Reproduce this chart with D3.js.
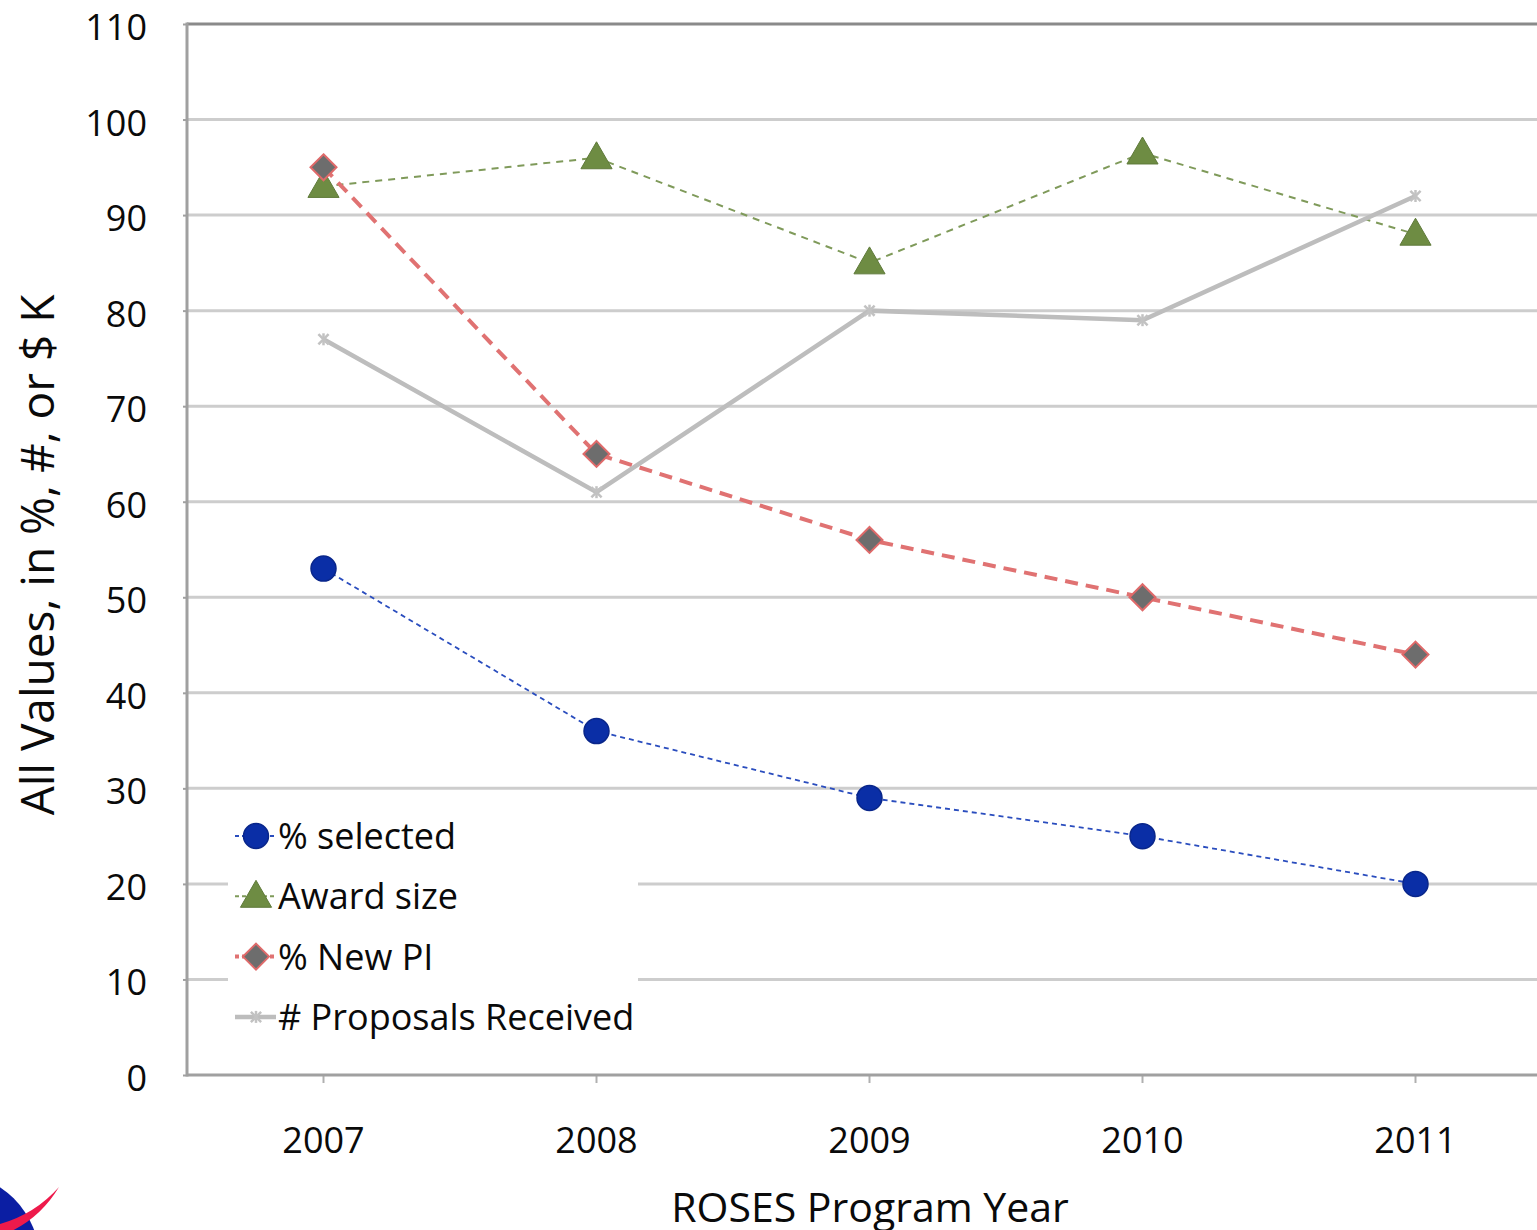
<!DOCTYPE html>
<html>
<head>
<meta charset="utf-8">
<script src="https://cdn.jsdelivr.net/npm/d3@7"></script>
<style>
  body { margin: 0; background: #fff; }
  svg text { font-family: "Open Sans", sans-serif; fill: #0a0a0a; }
</style>
</head>
<body>
<div id="chart"></div>
<script>
// values
var years = ["2007", "2008", "2009", "2010", "2011"];
var yTicks = [0, 10, 20, 30, 40, 50, 60, 70, 80, 90, 100, 110];
var pctSelected = [53, 36, 29, 25, 20];
var awardSize = [93, 96, 85, 96.5, 88];
var pctNewPI = [95, 65, 56, 50, 44];
var proposals = [77, 61, 80, 79, 92];
var seriesNames = ["% selected", "Award size", "% New PI", "# Proposals Received"];

(function() {
    var width = 1537, height = 1230,
        left = 187, top = 24, bottom = 1075, step = 273;

    var svg = d3.select("#chart").append("svg")
        .attr("width", width).attr("height", height);

    // one band per year, the plot runs a little past the right edge
    var x = d3.scaleBand().domain(years).range([left, left + step * years.length]).paddingInner(0);
    var y = d3.scaleLinear().domain([0, 110]).range([bottom, top]);
    var cx = function(d, i) { return x(years[i]) + x.bandwidth() / 2; };

    // gridlines
    svg.append("g").selectAll("line")
        .data(yTicks.filter(function(t) { return t > 0 && t < 110; }))
        .enter().append("line")
        .attr("x1", left).attr("x2", width)
        .attr("y1", function(d) { return y(d); }).attr("y2", function(d) { return y(d); })
        .attr("stroke", "#cdcdcd").attr("stroke-width", 3);

    // frame
    svg.append("line").attr("x1", left).attr("x2", width).attr("y1", top).attr("y2", top)
        .attr("stroke", "#8a8a8a").attr("stroke-width", 3);
    svg.append("line").attr("x1", left).attr("x2", left).attr("y1", top - 1.5).attr("y2", bottom + 1.5)
        .attr("stroke", "#a0a0a0").attr("stroke-width", 3);

    // x axis
    var xAxis = d3.axisBottom(x).tickSize(8).tickPadding(44);
    var gx = svg.append("g").attr("transform", "translate(0," + bottom + ")").call(xAxis);
    gx.select(".domain").remove();
    gx.append("line").attr("x1", left).attr("x2", width).attr("stroke", "#a0a0a0").attr("stroke-width", 3);
    gx.selectAll(".tick line").attr("stroke", "#b0b0b0").attr("stroke-width", 2);
    gx.selectAll(".tick text").attr("font-size", 36).attr("fill", "#0a0a0a");

    // y axis labels
    var yAxis = d3.axisLeft(y).tickValues(yTicks).tickSize(4).tickPadding(36);
    var gy = svg.append("g").attr("transform", "translate(" + left + ",4)").call(yAxis);
    gy.select(".domain").remove();
    gy.selectAll(".tick line").attr("stroke", "#a0a0a0").attr("stroke-width", 2).attr("transform", "translate(0,-4)");
    gy.selectAll(".tick text").attr("font-size", 36).attr("fill", "#0a0a0a");

    // axis titles
    svg.append("text").attr("x", 870).attr("y", 1222).attr("text-anchor", "middle")
        .attr("font-size", 41).text("ROSES Program Year");
    svg.append("text").attr("transform", "translate(54,555) rotate(-90)").attr("text-anchor", "middle")
        .attr("font-size", 46).text("All Values, in %, #, or $ K");

    var line = d3.line().x(cx).y(function(d) { return y(d); });

    // legend background box covers the gridlines
    svg.append("rect").attr("x", 228).attr("y", 798).attr("width", 410).attr("height", 258).attr("fill", "#fff");

    var series = [
        { name: seriesNames[0], values: pctSelected, stroke: "#2a4dbe", width: 1.8, dash: "5,4", marker: "circle" },
        { name: seriesNames[1], values: awardSize, stroke: "#7f9a5a", width: 2, dash: "7,6", marker: "triangle" },
        { name: seriesNames[2], values: pctNewPI, stroke: "#e07272", width: 4, dash: "13,8", marker: "diamond" },
        { name: seriesNames[3], values: proposals, stroke: "#bdbdbd", width: 4.5, dash: null, marker: "star" }
    ];

    function drawMarker(g, type) {
        if (type === "circle") {
            g.append("circle").attr("r", 12.5).attr("fill", "#0a2ea6").attr("stroke", "#09268a").attr("stroke-width", 1.5);
        } else if (type === "triangle") {
            g.append("path").attr("d", d3.symbol().type(d3.symbolTriangle).size(420)())
                .attr("transform", "translate(0,2)")
                .attr("fill", "#6e8c43").attr("stroke", "#5f7a3a").attr("stroke-width", 1);
        } else if (type === "diamond") {
            g.append("path").attr("d", "M0,-13L13,0L0,13L-13,0Z")
                .attr("fill", "#6d6d6d").attr("stroke", "#df6a6a").attr("stroke-width", 2);
        } else {
            g.append("path").attr("d", d3.symbol().type(d3.symbolTimes).size(70)())
                .attr("fill", "none").attr("stroke", "#c2c2c2").attr("stroke-width", 2.5);
            g.append("line").attr("y1", -6).attr("y2", 6).attr("stroke", "#c2c2c2").attr("stroke-width", 2.5);
        }
    }

    series.forEach(function(s) {
        svg.append("path").datum(s.values).attr("d", line)
            .attr("fill", "none").attr("stroke", s.stroke).attr("stroke-width", s.width)
            .attr("stroke-dasharray", s.dash);
        svg.append("g").selectAll("g").data(s.values).enter().append("g")
            .attr("transform", function(d, i) { return "translate(" + cx(d, i) + "," + y(d) + ")"; })
            .each(function() { drawMarker(d3.select(this), s.marker); });
    });

    // legend
    var lg = svg.append("g").selectAll("g").data(series).enter().append("g")
        .attr("transform", function(d, i) { return "translate(0," + (836 + i * 60.3) + ")"; });
    lg.append("line").attr("x1", 235).attr("x2", 276)
        .attr("stroke", function(d) { return d.stroke; })
        .attr("stroke-width", function(d) { return d.width; })
        .attr("stroke-dasharray", function(d) { return d.dash ? "4,3" : null; });
    lg.append("g").attr("transform", "translate(256,0)")
        .each(function(d) { drawMarker(d3.select(this), d.marker); });
    lg.append("text").attr("x", 278).attr("y", 13).attr("font-size", 36)
        .text(function(d) { return d.name; });

    // logo fragment in the corner
    svg.append("circle").attr("cx", -50).attr("cy", 1262).attr("r", 90).attr("fill", "#0b1ea3");
    svg.append("path").attr("d", "M59,1187Q35,1214 0,1224L0,1236Q38,1222 59,1187Z").attr("fill", "#ee1a4b");
})();
</script>
</body>
</html>
